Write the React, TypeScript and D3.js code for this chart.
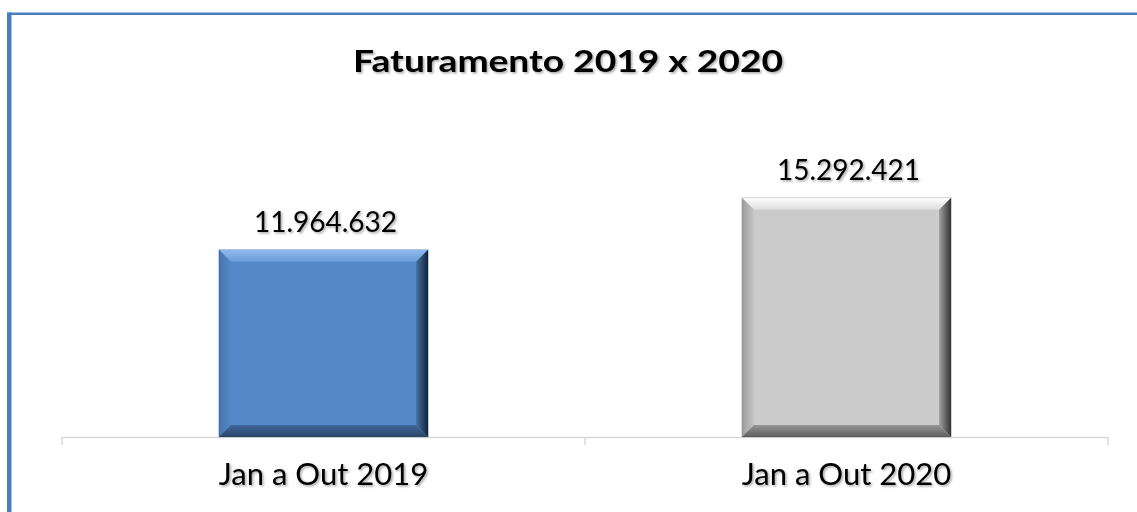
import React from 'react';
import * as d3 from 'd3';

const categories = ['Jan a Out 2019', 'Jan a Out 2020'];
const values = [11964632, 15292421];
const title = 'Faturamento 2019 x 2020';

const width = 1137;
const height = 512;
const FONT = 'Lato, "Open Sans", sans-serif';

// cores do chanfro de cada barra (face, topo, esquerda, direita, base)
const palettes = [
  {face: '#5588c8', top: ['#6c9cd8', '#8fbdf0'], left: ['#4674b0', '#5588c8'], right: ['#4a72a6', '#0f2236'], bottom: ['#40679a', '#2a4668']},
  {face: '#cbcbcb', top: ['#dcdcdc', '#ffffff'], left: ['#9c9c9c', '#c4c4c4'], right: ['#a0a0a0', '#333333'], bottom: ['#959595', '#5e5e5e']},
];

const fmt = (v: number) => d3.format(',')(v).replace(/,/g, '.');

export default function App() {
  const x = d3.scaleBand<string>()
    .domain(categories)
    .range([62, 1108])
    .paddingInner(0.6)
    .paddingOuter(0.3);

  const y = d3.scaleLinear().domain([0, 20000000]).range([437, 124]);
  const bev = 12;
  const ticks = d3.range(categories.length + 1).map(i => 62 + i * x.step());

  return (
    <svg width={width} height={height} style={{position: 'absolute', left: 0, top: 0, background: '#fff'}}>
      <defs>
        <filter id="sh" x="-10%" y="-30%" width="120%" height="160%">
          <feDropShadow dx="1.5" dy="1.5" stdDeviation="1" floodColor="#000" floodOpacity="0.35" />
        </filter>
        {palettes.map((p, i) => (
          <React.Fragment key={i}>
            <linearGradient id={`t${i}`} x1="0" y1="1" x2="0" y2="0">
              <stop offset="0" stopColor={p.top[0]} />
              <stop offset="1" stopColor={p.top[1]} />
            </linearGradient>
            <linearGradient id={`l${i}`} x1="0" y1="0" x2="1" y2="0">
              <stop offset="0" stopColor={p.left[0]} />
              <stop offset="1" stopColor={p.left[1]} />
            </linearGradient>
            <linearGradient id={`r${i}`} x1="0" y1="0" x2="1" y2="0">
              <stop offset="0" stopColor={p.right[0]} />
              <stop offset="1" stopColor={p.right[1]} />
            </linearGradient>
            <linearGradient id={`b${i}`} x1="0" y1="0" x2="0" y2="1">
              <stop offset="0" stopColor={p.bottom[0]} />
              <stop offset="1" stopColor={p.bottom[1]} />
            </linearGradient>
          </React.Fragment>
        ))}
      </defs>

      {/* moldura */}
      <rect x={7} y={12.5} width={width} height={2.5} fill="#4a7ebb" />
      <rect x={7} y={12.5} width={4.5} height={height} fill="#4a7ebb" />

      <text x={568} y={72} textAnchor="middle" fontFamily={FONT} fontWeight="bold" fontSize={31}
        textLength={430} lengthAdjust="spacingAndGlyphs" fill="#000" filter="url(#sh)">
        {title}
      </text>

      {/* eixo */}
      <line x1={62} x2={1108} y1={437.5} y2={437.5} stroke="#d9d9d9" strokeWidth={1.5} />
      {ticks.map((t, i) => (
        <line key={i} x1={t} x2={t} y1={437} y2={445} stroke="#d9d9d9" strokeWidth={1.5} />
      ))}

      {categories.map((c, i) => {
        const x0 = x(c)!;
        const x1 = x0 + x.bandwidth();
        const y0 = y(values[i]);
        const y1 = y(0);
        const p = palettes[i];
        return (
          <g key={c}>
            <rect x={x0} y={y0} width={x1 - x0} height={y1 - y0} fill={p.face} />
            <polygon points={`${x0},${y0} ${x1},${y0} ${x1 - bev},${y0 + bev} ${x0 + bev},${y0 + bev}`} fill={`url(#t${i})`} />
            <polygon points={`${x0},${y0} ${x0 + bev},${y0 + bev} ${x0 + bev},${y1 - bev} ${x0},${y1}`} fill={`url(#l${i})`} />
            <polygon points={`${x1},${y0} ${x1},${y1} ${x1 - bev},${y1 - bev} ${x1 - bev},${y0 + bev}`} fill={`url(#r${i})`} />
            <polygon points={`${x0},${y1} ${x0 + bev},${y1 - bev} ${x1 - bev},${y1 - bev} ${x1},${y1}`} fill={`url(#b${i})`} />
            <rect x={x0} y={y0} width={x1 - x0} height={y1 - y0} fill="none" stroke="rgba(0,0,0,0.15)" strokeWidth={0.8} />
            <text x={(x0 + x1) / 2 + 2} y={y0 - 18} textAnchor="middle" fontFamily={FONT} fontSize={28} fill="#000" filter="url(#sh)">
              {fmt(values[i])}
            </text>
            <text x={(x0 + x1) / 2} y={485} textAnchor="middle" fontFamily={FONT} fontSize={31} fill="#000" filter="url(#sh)">
              {c}
            </text>
          </g>
        );
      })}
    </svg>
  );
}
